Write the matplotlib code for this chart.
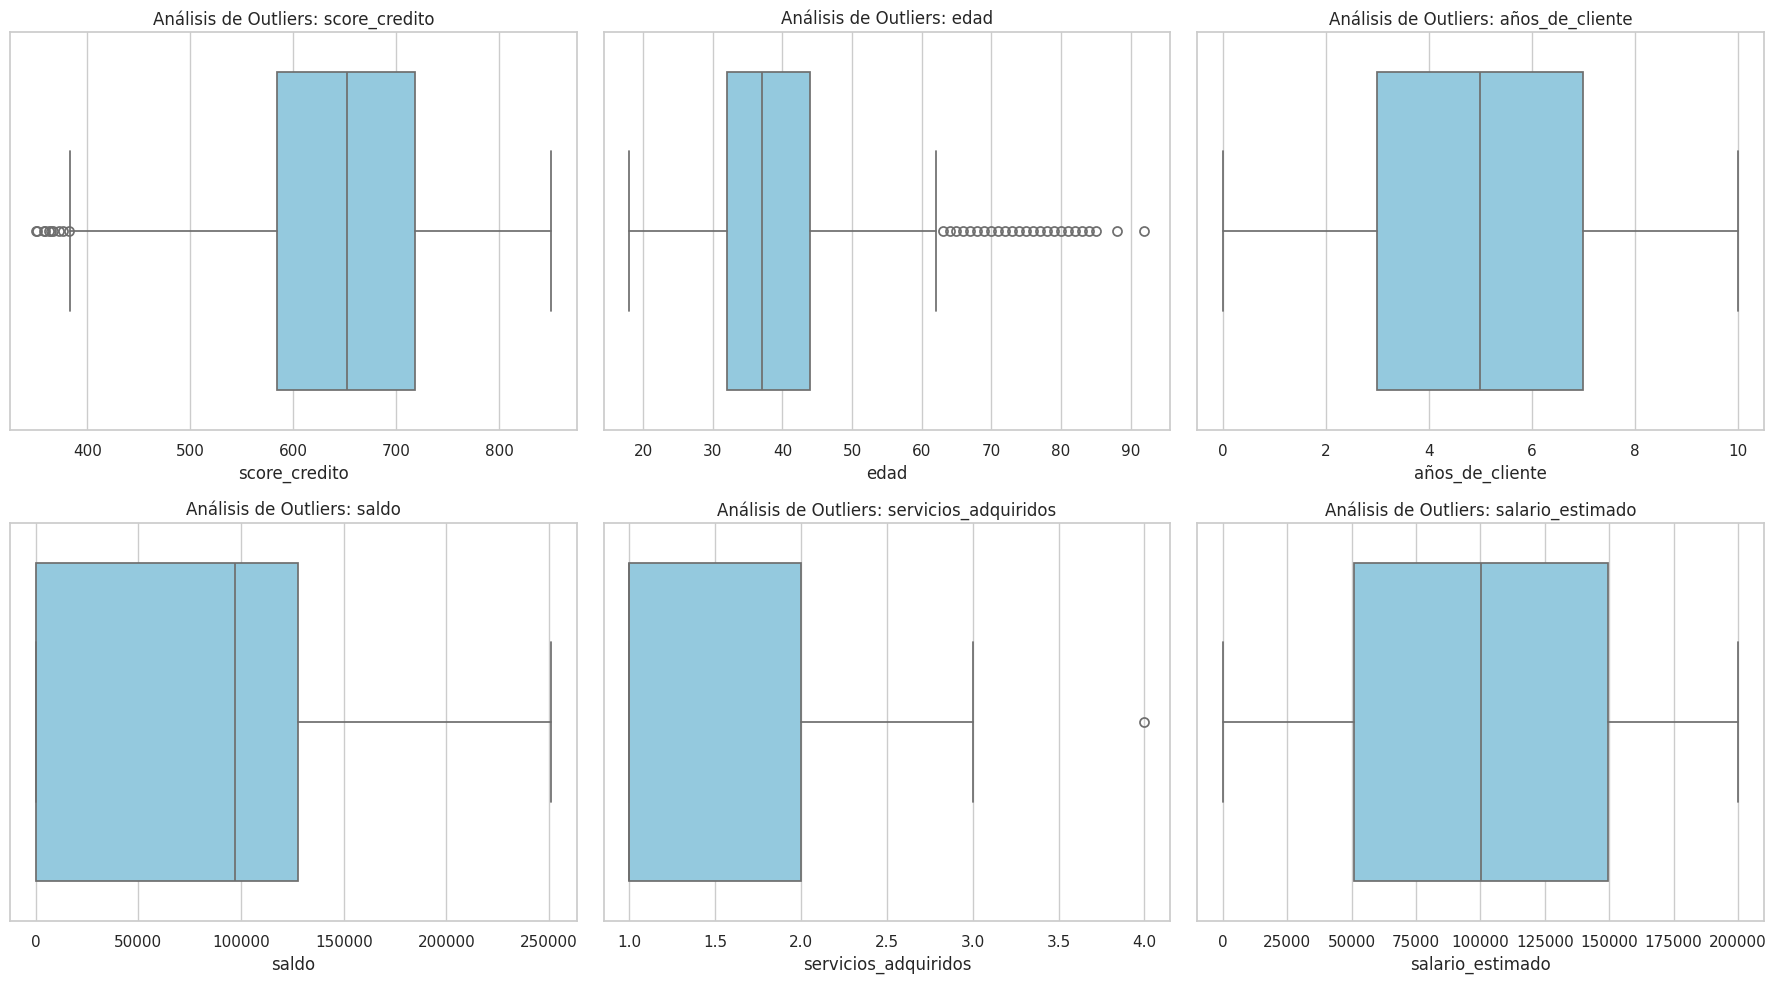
import matplotlib
matplotlib.use("Agg")
import matplotlib.pyplot as plt
import seaborn as sns

# columnas y estadísticos (q1, mediana, q3, bigotes, outliers)
COLUMNAS = ["score_credito", "edad", "años_de_cliente", "saldo",
            "servicios_adquiridos", "salario_estimado"]
Q1 = [584, 32, 3, 0, 1, 51002]
MEDIANA = [652, 37, 5, 97199, 1, 100194]
Q3 = [718, 44, 7, 127644, 2, 149388]
BIGOTE_INF = [383, 18, 0, 0, 1, 11.58]
BIGOTE_SUP = [850, 62, 10, 250898, 3, 199992]
OUTLIERS = [
    [350, 351, 358, 359, 363, 365, 367, 373, 376, 382],
    [63, 64, 65, 66, 67, 68, 69, 70, 71, 72, 73, 74, 75, 76, 77, 78, 79,
     80, 81, 82, 83, 84, 85, 88, 92],
    [],
    [],
    [4],
    [],
]
TICKS = [
    [400, 500, 600, 700, 800],
    [20, 30, 40, 50, 60, 70, 80, 90],
    [0, 2, 4, 6, 8, 10],
    [0, 50000, 100000, 150000, 200000, 250000],
    [1.0, 1.5, 2.0, 2.5, 3.0, 3.5, 4.0],
    [0, 25000, 50000, 75000, 100000, 125000, 150000, 175000, 200000],
]
TICK_LABELS = [
    None, None, None, None,
    ["1.0", "1.5", "2.0", "2.5", "3.0", "3.5", "4.0"],
    None,
]

sns.set_theme(style="whitegrid")
LINEA = "#6e6e6e"
RELLENO = sns.desaturate("skyblue", 0.75)
LW = 1.25

fig, axes = plt.subplots(2, 3, figsize=(18, 10), dpi=100)
for i, (ax, col) in enumerate(zip(axes.flat, COLUMNAS)):
    st = [{"q1": Q1[i], "med": MEDIANA[i], "q3": Q3[i],
           "whislo": BIGOTE_INF[i], "whishi": BIGOTE_SUP[i],
           "fliers": OUTLIERS[i], "label": ""}]
    ax.bxp(st, positions=[0], widths=0.8, capwidths=[0.4], vert=False,
           patch_artist=True, showfliers=True,
           boxprops=dict(facecolor=RELLENO, edgecolor=LINEA, linewidth=LW),
           medianprops=dict(color=LINEA, linewidth=LW),
           whiskerprops=dict(color=LINEA, linewidth=LW),
           capprops=dict(color=LINEA, linewidth=LW),
           flierprops=dict(marker="o", markerfacecolor="none",
                           markeredgecolor=LINEA, markeredgewidth=LW,
                           markersize=6.5, linewidth=0))
    ax.set_ylim(0.5, -0.5)
    ax.set_yticks([])
    ax.set_xticks(TICKS[i])
    if TICK_LABELS[i]:
        ax.set_xticklabels(TICK_LABELS[i])
    ax.xaxis.grid(True)
    ax.set_xlabel(col)
    ax.set_title(f"Análisis de Outliers: {col}")

fig.tight_layout()
fig.savefig("out.png", dpi=100, bbox_inches="tight")
